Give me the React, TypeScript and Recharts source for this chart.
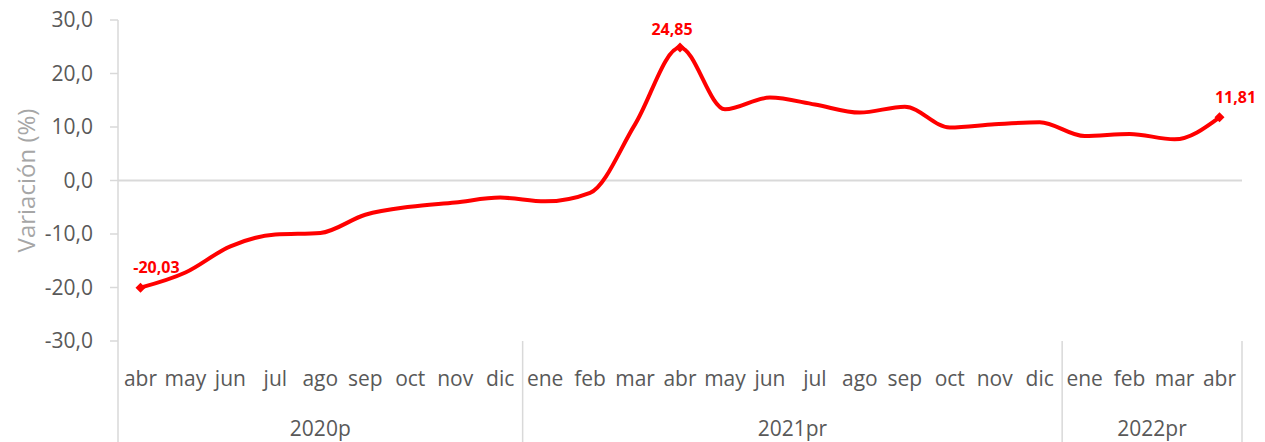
import { LineChart, Line, XAxis, YAxis, ReferenceLine, LabelList } from 'recharts'

const MONTHS = [
  'abr', 'may', 'jun', 'jul', 'ago', 'sep', 'oct', 'nov', 'dic',
  'ene', 'feb', 'mar', 'abr', 'may', 'jun', 'jul', 'ago', 'sep', 'oct', 'nov', 'dic',
  'ene', 'feb', 'mar', 'abr',
]
const VALUES = [
  -20.03, -17.2, -12.3, -10.1, -9.8, -6.4, -4.9, -4.1, -3.2,
  -3.9, -2.3, 10.5, 24.85, 13.3, 15.5, 14.2, 12.7, 13.8, 9.9, 10.5, 10.9,
  8.3, 8.7, 7.7, 11.81,
]
const YEARS = ['2020p', '2021pr', '2022pr']
const YEAR_SIZES = [9, 12, 4]
const Y_TICKS = [-30, -20, -10, 0, 10, 20, 30]
const LABELLED = [0, 12, 24]

const W = 1265
const H = 442
const LEFT = 118
const RIGHT = 23
const STEP = (W - LEFT - RIGHT) / MONTHS.length
const GRAY = '#595959'
const FONT = "'Open Sans', sans-serif"

const data = MONTHS.map((m, i) => ({ i, mes: m, v: VALUES[i] }))

const yearStarts = YEAR_SIZES.map((_, k) => YEAR_SIZES.slice(0, k).reduce((a, b) => a + b, 0))

function MonthTick(props: any) {
  const { x, y, index } = props
  const k = yearStarts.indexOf(index)
  return (
    <g>
      <text x={x} y={y + 37} textAnchor="middle" dominantBaseline="central"
        fill={GRAY} fontSize={21} fontFamily={FONT}>{MONTHS[index]}</text>
      {k >= 0 && (
        <>
          <line x1={x - STEP / 2} x2={x - STEP / 2} y1={y} y2={H} stroke="#d9d9d9" strokeWidth={1.5} />
          <text x={x + ((YEAR_SIZES[k] - 1) / 2) * STEP} y={y + 87} textAnchor="middle" dominantBaseline="central"
            fill={GRAY} fontSize={21} fontFamily={FONT}>{YEARS[k]}</text>
        </>
      )}
      {index === MONTHS.length - 1 && (
        <line x1={x + STEP / 2} x2={x + STEP / 2} y1={y} y2={H} stroke="#d9d9d9" strokeWidth={1.5} />
      )}
    </g>
  )
}

function Dot(props: any) {
  const { cx, cy, index } = props
  if (!LABELLED.includes(index)) return <g key={index} />
  const s = 5
  return (
    <path key={index} d={`M${cx},${cy - s}L${cx + s},${cy}L${cx},${cy + s}L${cx - s},${cy}Z`} fill="#ff0000" />
  )
}

const LABEL_OFFSET: Record<number, [number, number]> = {
  0: [16, -21],
  12: [-8, -19],
  24: [16, -20],
}

function ValueLabel(props: any) {
  const { x, y, index, value } = props
  if (!LABELLED.includes(index)) return null
  const [dx, dy] = LABEL_OFFSET[index]
  return (
    <text x={x + dx} y={y + dy} textAnchor="middle" dominantBaseline="central"
      fill="#ff0000" fontWeight={700} fontSize={16} fontFamily={FONT}>
      {Number(value).toFixed(2).replace('.', ',')}
    </text>
  )
}

function AxisTitle(props: any) {
  const { viewBox } = props
  const cx = viewBox.x + 25
  const cy = viewBox.y + viewBox.height / 2
  return (
    <text x={cx} y={cy} transform={`rotate(-90 ${cx} ${cy})`} textAnchor="middle" dominantBaseline="central"
      fill="#a6a6a6" fontSize={24} fontFamily={FONT}>Variación (%)</text>
  )
}

export default function App() {
  return (
    <div style={{ position: 'absolute', left: 0, top: 0, background: '#fff' }}>
      <LineChart width={W} height={H} data={data} margin={{ top: 20, right: RIGHT, bottom: 0, left: 0 }}>
        <ReferenceLine y={0} stroke="#d9d9d9" strokeWidth={2} />
        <XAxis dataKey="i" height={101} interval={0} axisLine={false} tickLine={false}
          padding={{ left: STEP / 2, right: STEP / 2 }}
          tickSize={0} tickMargin={0} tick={<MonthTick />} />
        <YAxis width={LEFT} domain={[-30, 30]} ticks={Y_TICKS} interval={0}
          axisLine={{ stroke: '#d9d9d9', strokeWidth: 1.5 }}
          tickLine={{ stroke: '#d9d9d9', strokeWidth: 1.5 }} tickSize={8} tickMargin={17}
          tickFormatter={(v: number) => v.toFixed(1).replace('.', ',')}
          tick={{ fill: GRAY, fontSize: 21, fontFamily: FONT }}
          label={<AxisTitle />} />
        <Line type="monotone" dataKey="v" stroke="#ff0000" strokeWidth={4} dot={<Dot />}
          activeDot={false} isAnimationActive={false}>
          <LabelList dataKey="v" content={<ValueLabel />} />
        </Line>
      </LineChart>
    </div>
  )
}
